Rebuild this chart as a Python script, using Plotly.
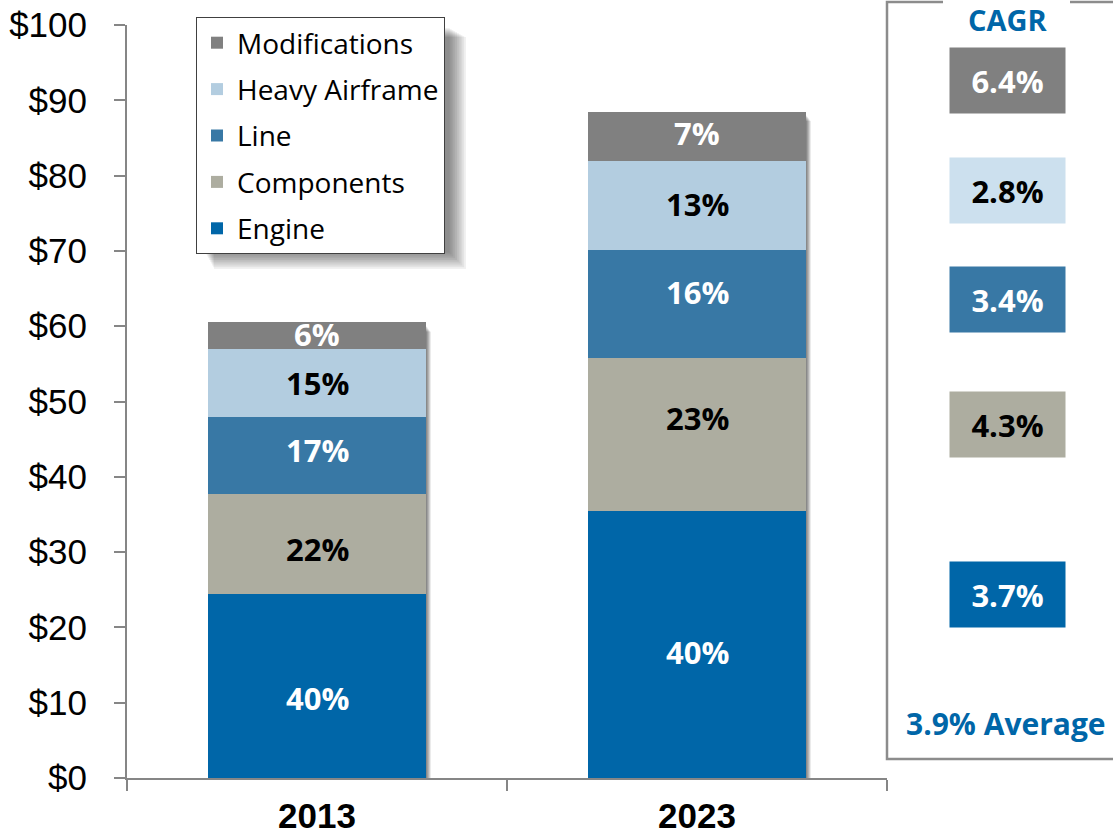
import plotly.graph_objects as go

# ---- data (US$ billions) ----
years = ["2013", "2023"]
segments = ["Engine", "Components", "Line", "Heavy Airframe", "Modifications"]
engine = [24.4, 35.5]
components = [13.3, 20.3]
line = [10.3, 14.3]
heavy_airframe = [9.0, 11.8]
modifications = [3.5, 6.6]
cagr = ["3.7%", "4.3%", "3.4%", "2.8%", "6.4%"]
average_cagr = "3.9% Average"
y_tick_values = list(range(0, 101, 10))
y_tick_text = ["$" + str(v) for v in y_tick_values]

series = [engine, components, line, heavy_airframe, modifications]
totals = [sum(s[i] for s in series) for i in range(len(years))]

# ---- styling ----
bar_colors = ["#0066A8", "#ADADA0", "#3878A5", "#B3CDE0", "#808080"]
cagr_box_colors = ["#0066A8", "#ADADA0", "#3878A5", "#CCE0EE", "#808080"]
label_colors = ["white", "black", "white", "black", "white"]
# hand-placed nudges of the share labels (pixels, + = down), per year
label_nudge = [[11.5, 5, -5.5, 0, -1.5], [7.5, -16.5, -12, -1.5, -3]]
LABEL_FONT = "Open Sans"
AXIS_FONT = "Liberation Sans, Arial"
BLUE = "#0066A8"

W, H = 1113, 839
ML, MR, MT, MB = 127, 226, 25, 61
PW, PH = W - ML - MR, H - MT - MB
BAR_W = 0.574


def px_x(px):
    """figure pixel x -> paper x"""
    return (px - ML) / PW


def px_y(py):
    """figure pixel y -> paper y"""
    return (H - MB - py) / PH


fig = go.Figure()
annotations = []

n = len(segments)
base = [0.0] * len(years)
for idx, (name, vals, col, tcol) in enumerate(zip(segments, series, bar_colors, label_colors)):
    fig.add_trace(go.Bar(
        name=name, x=years, y=vals, width=BAR_W,
        marker=dict(color=col, line=dict(width=0)),
        legendgroup=name, legendrank=n - idx, hoverinfo="skip",
    ))
    # share-of-total label centred on each segment (x = category index)
    for i, v in enumerate(vals):
        annotations.append(dict(
            text="<b>%d%%</b>" % round(v / totals[i] * 100),
            xref="x", yref="y", x=i, y=base[i] + v / 2,
            xanchor="center", yanchor="middle", showarrow=False,
            yshift=-label_nudge[i][idx],
            font=dict(family=LABEL_FONT, size=31, color=tcol),
        ))
        base[i] += v

shapes = []
# soft drop shadow behind each stacked column
dx_unit = 1.0 / PW            # 1px in category units
dy_unit = 100.0 / PH          # 1px in value units
for i, tot in enumerate(totals):
    for k in range(1, 9):
        shapes.append(dict(
            type="rect", xref="x", yref="y", layer="below",
            x0=i - BAR_W / 2 + k * 1.2 * dx_unit, x1=i + BAR_W / 2 + k * 1.2 * dx_unit,
            y0=-k * 0.6 * dy_unit, y1=tot - (3 + k * 0.8) * dy_unit,
            fillcolor="rgba(0,0,0,0.075)", line=dict(width=0),
        ))

# soft drop shadow behind the legend box
lg_l, lg_t, lg_r, lg_b = 196, 17, 446, 249
for k in range(1, 11):
    shapes.append(dict(
        type="rect", xref="paper", yref="paper", layer="above",
        x0=px_x(lg_l + 8 + k * 1.0), x1=px_x(lg_r + 2 + k * 1.8),
        y0=px_y(lg_b + 2 + k * 1.8), y1=px_y(lg_t + 10 + k * 1.0),
        fillcolor="rgba(0,0,0,0.055)", line=dict(width=0),
    ))

# CAGR panel frame (top edge broken by the title)
frame = "#8C8C8C"
fl, ft, fb, fr = 887, 2, 759, 1125
gap_l, gap_r = 943, 1070
shapes.append(dict(
    type="path", xref="paper", yref="paper", layer="above",
    path="M %f,%f L %f,%f L %f,%f L %f,%f" % (
        px_x(gap_l), px_y(ft), px_x(fl), px_y(ft),
        px_x(fl), px_y(fb), px_x(fr), px_y(fb)),
    line=dict(color=frame, width=2.5),
))
shapes.append(dict(
    type="line", xref="paper", yref="paper", layer="above",
    x0=px_x(gap_r), x1=px_x(fr), y0=px_y(ft), y1=px_y(ft),
    line=dict(color=frame, width=2.5),
))

annotations.append(dict(
    text="<b>CAGR</b>", xref="paper", yref="paper",
    x=px_x(1007), y=px_y(19), xanchor="center", yanchor="middle",
    showarrow=False,
    font=dict(family=LABEL_FONT, size=29, color=BLUE),
))

# CAGR value boxes, one per segment
cagr_box_centers_px = [594.5, 424.5, 299.5, 190.5, 80.5]
for val, col, tcol, cy in zip(cagr, cagr_box_colors, label_colors, cagr_box_centers_px):
    annotations.append(dict(
        text="<b>%s</b>" % val, xref="paper", yref="paper",
        x=px_x(1007.5), y=px_y(cy), xanchor="center", yanchor="middle",
        width=115, height=65, bgcolor=col, borderpad=0, showarrow=False,
        font=dict(family=LABEL_FONT, size=31, color=tcol),
    ))

annotations.append(dict(
    text="<b>%s</b>" % average_cagr, xref="paper", yref="paper",
    x=px_x(904), y=px_y(723), xanchor="left", yanchor="middle",
    showarrow=False, font=dict(family=LABEL_FONT, size=30, color=BLUE),
))

axis_grey = "#868686"
fig.update_layout(
    width=W, height=H,
    margin=dict(l=ML, r=MR, t=MT, b=MB, pad=0, autoexpand=False),
    barmode="stack", bargap=1 - BAR_W,
    paper_bgcolor="white", plot_bgcolor="white",
    showlegend=True,
    legend=dict(
        x=px_x(lg_l), y=px_y(lg_t), xanchor="left", yanchor="top",
        traceorder="grouped", tracegroupgap=7,
        bgcolor="white", bordercolor="#404040", borderwidth=1,
        font=dict(family=LABEL_FONT, size=28, color="black"),
    ),
    xaxis=dict(
        type="category", range=[-0.5, 1.5], automargin=False,
        showline=True, linecolor=axis_grey, linewidth=2,
        ticks="outside", tickson="boundaries", ticklen=11,
        tickcolor=axis_grey, tickwidth=2, showgrid=False,
        tickfont=dict(family=AXIS_FONT, size=35, color="black", weight="bold"),
        ticklabelstandoff=6,
    ),
    yaxis=dict(
        range=[0, 100], tickvals=y_tick_values, ticktext=y_tick_text,
        automargin=False,
        showline=True, linecolor=axis_grey, linewidth=2,
        ticks="outside", ticklen=11, tickcolor=axis_grey, tickwidth=2,
        showgrid=False, zeroline=False,
        tickfont=dict(family=AXIS_FONT, size=35, color="black"),
        ticklabelstandoff=20,
    ),
    shapes=shapes,
    annotations=annotations,
)

fig.write_html("out.html")
